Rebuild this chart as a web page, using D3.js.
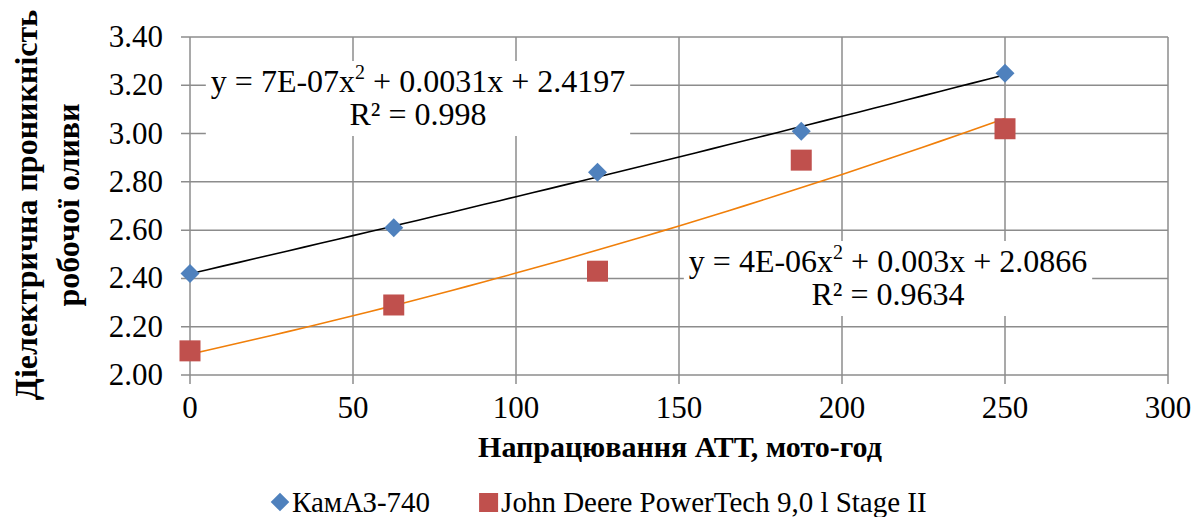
<!DOCTYPE html>
<html>
<head>
<meta charset="utf-8">
<script src="https://cdn.jsdelivr.net/npm/d3@7"></script>
<style>
body { margin: 0; background: #fff; }
svg text { font-family: "Liberation Serif", "Times New Roman", serif; }
</style>
</head>
<body>
<div id="chart"></div>
<script>
// values
var hours = [0, 62.5, 125, 187.5, 250];
var kamaz = [2.42, 2.61, 2.84, 3.01, 3.25];
var deere = [2.10, 2.29, 2.43, 2.89, 3.02];
var xTicks = [0, 50, 100, 150, 200, 250, 300];
var yTicks = [2.0, 2.2, 2.4, 2.6, 2.8, 3.0, 3.2, 3.4];
var seriesNames = ["КамАЗ-740", "John Deere PowerTech 9,0 l Stage II"];
var eqKamaz = [["y = 7E-07x", "2", " + 0.0031x + 2.4197"], "R² = 0.998"];
var eqDeere = [["y = 4E-06x", "2", " + 0.003x + 2.0866"], "R² = 0.9634"];

var W = 1197, H = 517;
var m = {left: 190, right: 29, top: 37, bottom: 142};

var svg = d3.select("#chart").append("svg").attr("width", W).attr("height", H);

var x = d3.scaleLinear().domain([0, 300]).range([m.left, W - m.right]);
var y = d3.scaleLinear().domain([2.0, 3.4]).range([H - m.bottom, m.top]);

var grid = "#8c8c8c";

// gridlines
svg.append("g").selectAll("line").data(yTicks).enter().append("line")
  .attr("x1", m.left - 9).attr("x2", W - m.right)
  .attr("y1", d => y(d)).attr("y2", d => y(d))
  .attr("stroke", grid).attr("stroke-width", 1.5);
svg.append("g").selectAll("line").data(xTicks).enter().append("line")
  .attr("x1", d => x(d)).attr("x2", d => x(d))
  .attr("y1", m.top).attr("y2", H - m.bottom + 9)
  .attr("stroke", grid).attr("stroke-width", 1.5);

// tick labels
svg.append("g").selectAll("text").data(yTicks).enter().append("text")
  .attr("x", m.left - 27).attr("y", d => y(d) + 10)
  .attr("text-anchor", "end").attr("font-size", 31).attr("fill", "#000")
  .text(d => d.toFixed(2));
svg.append("g").selectAll("text").data(xTicks).enter().append("text")
  .attr("x", d => x(d)).attr("y", H - m.bottom + 43)
  .attr("text-anchor", "middle").attr("font-size", 31).attr("fill", "#000")
  .text(d => d);

// least squares quadratic fit
function polyfit2(xs, ys) {
  var n = xs.length, S = [0,0,0,0,0], T = [0,0,0];
  for (var i = 0; i < n; i++) {
    for (var k = 0; k < 5; k++) S[k] += Math.pow(xs[i], k);
    for (var k = 0; k < 3; k++) T[k] += ys[i] * Math.pow(xs[i], k);
  }
  var A = [[S[0],S[1],S[2],T[0]],[S[1],S[2],S[3],T[1]],[S[2],S[3],S[4],T[2]]];
  for (var c = 0; c < 3; c++) {
    for (var r = c + 1; r < 3; r++) {
      var f = A[r][c] / A[c][c];
      for (var j = c; j < 4; j++) A[r][j] -= f * A[c][j];
    }
  }
  var b = [0,0,0];
  for (var r = 2; r >= 0; r--) {
    var s = A[r][3];
    for (var j = r + 1; j < 3; j++) s -= A[r][j] * b[j];
    b[r] = s / A[r][r];
  }
  return b;
}

function trend(ys, color) {
  var c = polyfit2(hours, ys);
  var pts = d3.range(0, 251, 5).map(t => [t, c[0] + c[1]*t + c[2]*t*t]);
  svg.append("path").datum(pts)
    .attr("fill", "none").attr("stroke", color).attr("stroke-width", 1.6)
    .attr("d", d3.line().x(d => x(d[0])).y(d => y(d[1])));
}
trend(kamaz, "#000000");
trend(deere, "#F07F0A");

// equation labels with white boxes
function eqLabel(eq, cx, base) {
  var g = svg.append("g");
  var box = g.append("rect").attr("fill", "#fff");
  var t1 = g.append("text").attr("x", cx).attr("y", base)
    .attr("text-anchor", "middle").attr("font-size", 32).attr("fill", "#000");
  t1.append("tspan").text(eq[0][0]);
  t1.append("tspan").attr("dy", -13).attr("font-size", 20).text(eq[0][1]);
  t1.append("tspan").attr("dy", 13).text(eq[0][2]);
  var t2 = g.append("text").attr("x", cx).attr("y", base + 33)
    .attr("text-anchor", "middle").attr("font-size", 32).attr("fill", "#000").text(eq[1]);
  var bb = t1.node().getBBox();
  box.attr("x", bb.x - 5).attr("y", base - 31).attr("width", bb.width + 10).attr("height", 75);
}
eqLabel(eqKamaz, 418, 92);
eqLabel(eqDeere, 888, 272);

// markers
var diamond = d3.symbol().type(d3.symbolDiamond2).size(230);
svg.append("g").selectAll("path").data(hours).enter().append("path")
  .attr("d", diamond)
  .attr("transform", (d, i) => "translate(" + x(d) + "," + y(kamaz[i]) + ")")
  .attr("fill", "#4F81BD");
svg.append("g").selectAll("rect").data(hours).enter().append("rect")
  .attr("x", d => x(d) - 10.5).attr("y", (d, i) => y(deere[i]) - 10.5)
  .attr("width", 21).attr("height", 21)
  .attr("fill", "#C0504D");

// axis titles
svg.append("text").attr("x", 680).attr("y", 457)
  .attr("text-anchor", "middle").attr("font-size", 30).attr("font-weight", "bold")
  .text("Напрацювання АТТ, мото-год");
var yt = svg.append("text").attr("transform", "translate(0,205) rotate(-90)")
  .attr("text-anchor", "middle").attr("font-size", 32).attr("font-weight", "bold");
yt.append("tspan").attr("x", 0).attr("y", 37).text("Діелектрична проникність");
yt.append("tspan").attr("x", 0).attr("y", 79).text("робочої оливи");

// legend
var lg = svg.append("g");
lg.append("path").attr("d", d3.symbol().type(d3.symbolDiamond2).size(220))
  .attr("transform", "translate(280,502)").attr("fill", "#4F81BD");
var t1 = lg.append("text").attr("x", 292).attr("y", 512).attr("font-size", 29).text(seriesNames[0]);
var sx = 292 + t1.node().getComputedTextLength() + 49;
lg.append("rect").attr("x", sx).attr("y", 493).attr("width", 19).attr("height", 19).attr("fill", "#C0504D");
lg.append("text").attr("x", sx + 22).attr("y", 512).attr("font-size", 29).text(seriesNames[1]);
</script>
</body>
</html>
